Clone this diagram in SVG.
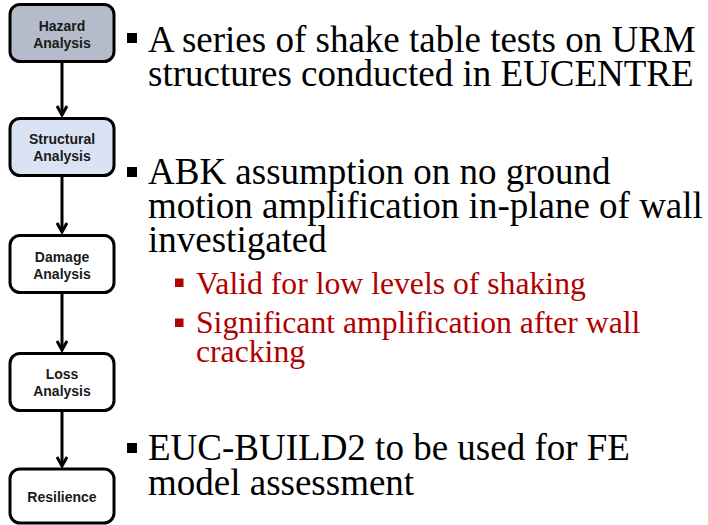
<svg xmlns="http://www.w3.org/2000/svg" width="708" height="525" viewBox="0 0 708 525">
  <style>
    .box { stroke: #000; stroke-width: 3; }
    .lbl { font-family: 'Liberation Sans', Arial, sans-serif; font-weight: bold; font-size: 14px; fill: #1a1a1a; text-anchor: middle; }
    .main { font-family: 'Liberation Serif', 'Times New Roman', serif; font-size: 37px; fill: #000; }
    .sub { font-family: 'Liberation Serif', 'Times New Roman', serif; font-size: 31.7px; fill: #b00000; }
    .link { stroke: #000; stroke-width: 3; fill: none; }
  </style>
  <defs>
    <marker id="chev" viewBox="0 0 12 12" refX="10" refY="6" markerWidth="12" markerHeight="12" markerUnits="userSpaceOnUse" orient="auto">
      <path d="M1,1 L10,6 L1,11" fill="none" stroke="#000" stroke-width="3"/>
    </marker>
  </defs>

  <!-- process chain connectors -->
  <g id="connectors">
    <line class="link" x1="62" y1="62" x2="62" y2="115" marker-end="url(#chev)"/>
    <line class="link" x1="62" y1="175" x2="62" y2="232" marker-end="url(#chev)"/>
    <line class="link" x1="62" y1="292" x2="62" y2="350" marker-end="url(#chev)"/>
    <line class="link" x1="62" y1="410" x2="62" y2="466" marker-end="url(#chev)"/>
  </g>

  <g id="hazard">
    <rect class="box" x="10" y="4.5" width="104" height="57" rx="10" fill="#b4bccb"/>
    <text class="lbl" x="62" y="30.5">Hazard</text>
    <text class="lbl" x="62" y="47.5">Analysis</text>
  </g>
  <g id="structural">
    <rect class="box" x="10" y="118.5" width="104" height="57" rx="10" fill="#dae3f3"/>
    <text class="lbl" x="62" y="143.5">Structural</text>
    <text class="lbl" x="62" y="160.5">Analysis</text>
  </g>
  <g id="damage">
    <rect class="box" x="10" y="235.5" width="104" height="57" rx="10" fill="#fff"/>
    <text class="lbl" x="62" y="262">Damage</text>
    <text class="lbl" x="62" y="279">Analysis</text>
  </g>
  <g id="loss">
    <rect class="box" x="10" y="353.5" width="104" height="57" rx="10" fill="#fff"/>
    <text class="lbl" x="62" y="378.5">Loss</text>
    <text class="lbl" x="62" y="395.5">Analysis</text>
  </g>
  <g id="resilience">
    <rect class="box" x="10" y="469" width="104" height="54" rx="10" fill="#fff"/>
    <text class="lbl" x="62" y="501.5">Resilience</text>
  </g>

  <!-- bullet text -->
  <g id="notes">
    <rect x="127" y="33" width="10" height="10" fill="#000"/>
    <text class="main" x="148" y="52">A series of shake table tests on URM</text>
    <text class="main" x="148" y="86">structures conducted in EUCENTRE</text>

    <rect x="127" y="167" width="10" height="10" fill="#000"/>
    <text class="main" x="148" y="184">ABK assumption on no ground</text>
    <text class="main" x="148" y="218">motion amplification in-plane of wall</text>
    <text class="main" x="148" y="252">investigated</text>

    <rect x="175" y="278.5" width="8.5" height="8.5" fill="#b00000"/>
    <text class="sub" x="196" y="294">Valid for low levels of shaking</text>
    <rect x="175" y="318.5" width="8.5" height="8.5" fill="#b00000"/>
    <text class="sub" x="196" y="333">Significant amplification after wall</text>
    <text class="sub" x="196" y="362">cracking</text>

    <rect x="127" y="443" width="10" height="10" fill="#000"/>
    <text class="main" x="148" y="460">EUC-BUILD2 to be used for FE</text>
    <text class="main" x="148" y="495">model assessment</text>
  </g>
</svg>
